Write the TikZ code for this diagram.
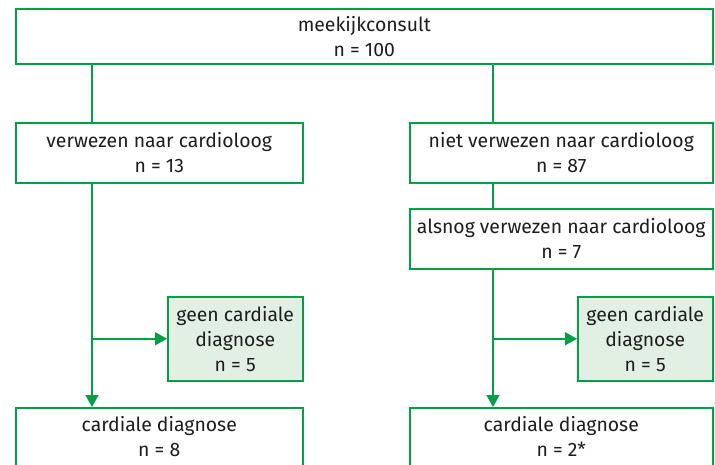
\documentclass[tikz,border=0pt]{standalone}
\usepackage{fontspec}
\setmainfont{Fira Sans}
\usetikzlibrary{arrows.meta}
\definecolor{lgreen}{RGB}{0,160,70}
\definecolor{gfill}{RGB}{226,239,227}
\definecolor{txt}{RGB}{30,30,30}
\tikzset{
  lbl/.style={text=txt, font=\fontsize{19.4}{25}\selectfont, align=center},
  box/.style={lbl, draw=lgreen, line width=1.5pt, fill=white, inner sep=0pt, anchor=north west},
  gbox/.style={box, fill=gfill},
  conn/.style={draw=lgreen, line width=1.5pt},
  arr/.style={conn, -{Triangle[length=12pt,width=13pt]}}
}
\begin{document}
\begin{tikzpicture}[x=1pt,y=-1pt]
\useasboundingbox (0,0) rectangle (715,464);
\clip (0,0) rectangle (715,464);
\node[box, minimum width=697pt, minimum height=55pt] (top) at (15,8) {meekijkconsult\\n = 100};
\node[box, minimum width=287pt, minimum height=60pt] (ver) at (15,122) {verwezen naar cardioloog\\n = 13};
\node[box, minimum width=303pt, minimum height=60pt] (niet) at (409,122) {niet verwezen naar cardioloog\\n = 87};
\node[box, minimum width=303pt, minimum height=60pt] (als) at (409,208) {alsnog verwezen naar cardioloog\\n = 7};
\node[gbox, minimum width=135pt, minimum height=84pt] (g1) at (167,296) {geen cardiale\\diagnose\\n = 5};
\node[gbox, minimum width=135pt, minimum height=84pt] (g2) at (577,296) {geen cardiale\\diagnose\\n = 5};
\node[box, minimum width=287pt, minimum height=80pt] (cd1) at (15,407) {};
\node[box, minimum width=303pt, minimum height=80pt] (cd2) at (409,407) {};
\node[lbl, anchor=north] (cd1t) at (cd1.north) [yshift=-6pt] {cardiale diagnose\\n = 8};
\node[lbl, anchor=north] (cd2t) at (cd2.north) [yshift=-6pt] {cardiale diagnose\\n = 2*};
\coordinate (lx) at (92,0);
\coordinate (rx) at (493,0);
\draw[conn] (top.south -| lx) -- (ver.north -| lx);
\draw[conn] (top.south -| rx) -- (niet.north -| rx);
\draw[conn] (niet.south -| rx) -- (als.north -| rx);
\draw[arr] (ver.south -| lx) -- (cd1.north -| lx);
\draw[arr] (als.south -| rx) -- (cd2.north -| rx);
\draw[arr] (g1.west -| lx) -- (g1.west);
\draw[arr] (g2.west -| rx) -- (g2.west);
\end{tikzpicture}
\end{document}
